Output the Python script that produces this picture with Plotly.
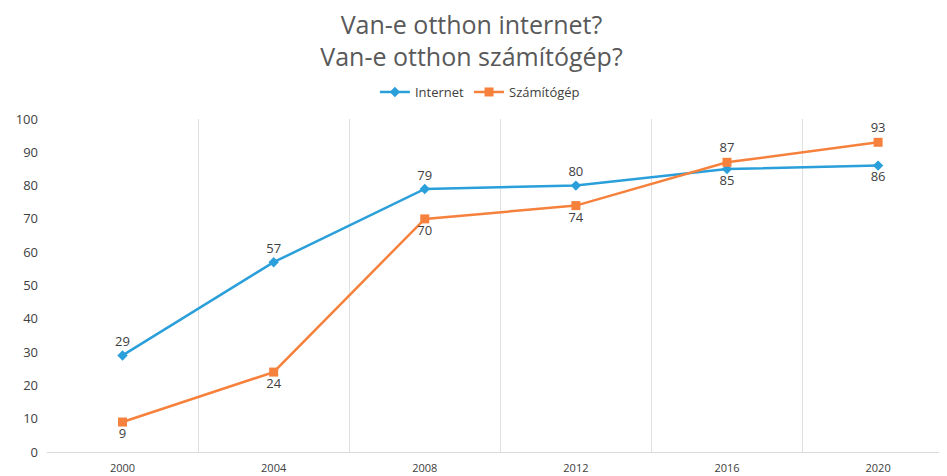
import plotly.graph_objects as go

years = ["2000", "2004", "2008", "2012", "2016", "2020"]
internet = [29, 57, 79, 80, 85, 86]
szamitogep = [9, 24, 70, 74, 87, 93]
internet_pos = ["top center", "top center", "top center", "top center", "bottom center", "bottom center"]
szamitogep_pos = ["bottom center", "bottom center", "bottom center", "bottom center", "top center", "top center"]
y_ticks = list(range(0, 101, 10))

xs = list(range(len(years)))

fig = go.Figure()
fig.add_trace(go.Scatter(
    x=xs, y=internet, name="Internet", mode="lines+markers+text",
    line=dict(color="#2a9fd9", width=2.5),
    marker=dict(symbol="diamond", size=8, color="#2a9fd9"),
    text=[str(v) for v in internet], textposition=internet_pos,
    textfont=dict(family="Open Sans", size=13, color="#404040"),
))
fig.add_trace(go.Scatter(
    x=xs, y=szamitogep, name="Számítógép", mode="lines+markers+text",
    line=dict(color="#f5813c", width=2.5),
    marker=dict(symbol="square", size=9, color="#f5813c"),
    text=[str(v) for v in szamitogep], textposition=szamitogep_pos,
    textfont=dict(family="Open Sans", size=13, color="#404040"),
))
# invisible trace to activate gridline axis
fig.add_trace(go.Scatter(x=[0], y=[0], xaxis="x2", mode="markers",
                         marker=dict(opacity=0), showlegend=False, hoverinfo="skip"))

fig.update_layout(
    width=939, height=468,
    margin=dict(l=39, r=0, t=111, b=24),
    paper_bgcolor="white", plot_bgcolor="white",
    title=dict(text="Van-e otthon internet?<br>Van-e otthon számítógép?",
               x=0.4936, xanchor="center", y=0.945, yanchor="top",
               font=dict(family="Open Sans", size=25, color="#595959")),
    legend=dict(orientation="h", x=0.481, xanchor="center", y=1.081, yanchor="middle",
                font=dict(family="Open Sans", size=13, color="#404040"),
                itemwidth=30, tracegroupgap=0),
    xaxis=dict(range=[-0.5, 5.456], tickvals=xs, ticktext=years, showgrid=False,
               showline=True, linecolor="#d9d9d9", linewidth=1, zeroline=False,
               ticklabelstandoff=6,
               tickfont=dict(family="Open Sans", size=11, color="#404040"), ticks=""),
    xaxis2=dict(range=[-0.5, 5.456], overlaying="x", tickvals=[0.5, 1.5, 2.5, 3.5, 4.5],
                showticklabels=False, showgrid=True, gridcolor="#e0e0e0", gridwidth=1,
                zeroline=False, showline=False),
    yaxis=dict(range=[0, 100], tickvals=y_ticks, showgrid=False, zeroline=False,
               showline=False, ticks="", ticklabelstandoff=8,
               tickfont=dict(family="Open Sans", size=13, color="#404040")),
    showlegend=True,
)
fig.write_html("out.html")
